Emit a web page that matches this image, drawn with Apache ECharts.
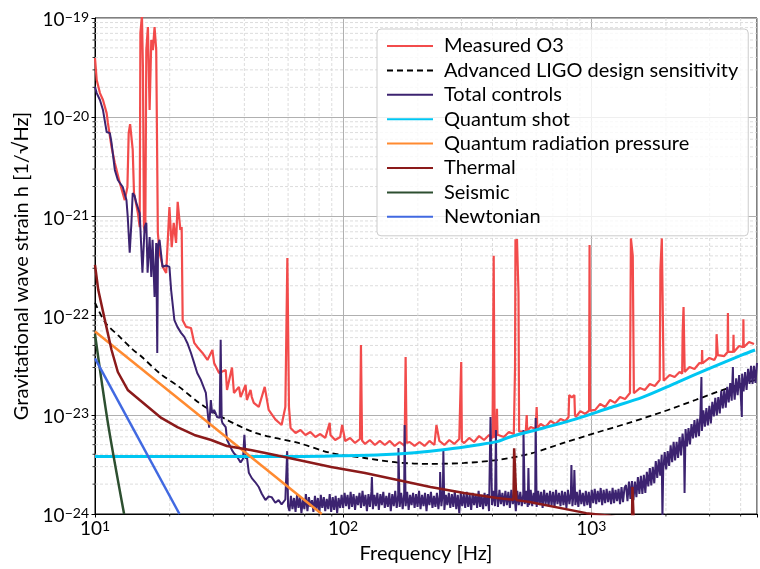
<!DOCTYPE html>
<html><head><meta charset="utf-8">
<script src="https://cdn.jsdelivr.net/npm/echarts@6.0.0/dist/echarts.min.js"></script>
<style>html,body{margin:0;padding:0;background:#fff}#c{width:760px;height:569px}</style>
</head><body><div id="c"></div>
<script>
// ---------- data (frequency in Hz, strain in 1/sqrt(Hz)) ----------
const freqRange = [10, 4656];
const strainRange = [1e-24, 1e-19];
const H_UNIT = 1e-24; // plotting unit for strain

const seriesNames = ['Measured O3','Advanced LIGO design sensitivity','Total controls','Quantum shot','Quantum radiation pressure','Thermal','Seismic','Newtonian'];

const minorFreqTicks = [20,30,40,50,60,70,80,90,200,300,400,500,600,700,800,900,2000,3000,4000];
const minorStrainTicks = [2e-24,3e-24,4e-24,5e-24,6e-24,7e-24,8e-24,9e-24,2e-23,3e-23,4e-23,5e-23,6e-23,7e-23,8e-23,9e-23,2e-22,3e-22,4e-22,5e-22,6e-22,7e-22,8e-22,9e-22,2e-21,3e-21,4e-21,5e-21,6e-21,7e-21,8e-21,9e-21,2e-20,3e-20,4e-20,5e-20,6e-20,7e-20,8e-20,9e-20];

const measuredO3 = [
[10,3.95e-20],[10.16,2.37e-20],[10.47,1.75e-20],[10.77,1.49e-20],[11.14,1.1e-20],[11.27,8.75e-21],[11.66,5.0e-21],[12.02,3.45e-21],[12.59,2.17e-21],[13.18,1.46e-21],[13.51,1.98e-21],[13.67,6.9e-21],[13.85,8.5e-21],[14.06,8.5e-21],[14.19,4.7e-21],[14.36,1.72e-21],[14.89,1.08e-21],[15.14,7.8e-22],[15.24,7.1e-20],[15.46,1.05e-19],[15.6,3.2e-20],[15.75,7.8e-22],[15.95,6.8e-22],[16.1,4.75e-20],[16.34,8.1e-20],[16.6,1.18e-20],[16.86,6.0e-20],[17.11,4.75e-20],[17.38,8.1e-20],[17.65,4.75e-20],[17.92,6.8e-22],[18.2,4.3e-22],[18.76,3.1e-22],[19.36,2.69e-22],[19.95,1.24e-21],[20.38,4.9e-22],[20.76,8.6e-22],[21.22,5.4e-22],[21.54,1.4e-21],[22.08,7.3e-22],[22.35,7.8e-22],[22.56,9.0e-23],[23.27,7.7e-23],[24.37,7.5e-23],[25.12,5.3e-23],[25.89,4.8e-23],[27.12,4.2e-23],[28.39,3.57e-23],[29.73,4.5e-23],[30.2,3.33e-23],[31.62,2.64e-23],[33.64,2.83e-23],[34.04,1.78e-23],[35.65,3.0e-23],[36.31,1.66e-23],[38.02,1.91e-23],[38.62,1.51e-23],[40.44,2.0e-23],[40.93,1.41e-23],[42.35,1.78e-23],[42.85,1.51e-23],[43.65,1.32e-23],[45.71,1.2e-23],[48.31,1.91e-23],[50.12,1.12e-23],[53.3,9.0e-24],[56.5,7.9e-24],[58.5,1.2e-23],[59.6,3.8e-22],[60.5,1.2e-23],
[61.4,7.36e-24],[64.3,6.56e-24],[67.3,7.03e-24],[70.5,6.26e-24],[73.8,6.71e-24],[77.3,5.98e-24],[80.9,6.40e-24],[84.7,5.84e-24],[88.3,8.3e-24],[88.9,6.26e-24],[92.9,5.57e-24],[97.3,5.98e-24],[99.1,7.9e-24],[101.9,5.45e-24],[106.7,5.84e-24],[111.7,5.20e-24],[116.9,5.70e-24],[118,5.05e-23],[119.2,5.5e-24],[122.5,5.08e-24],[128.2,5.57e-24],[134.3,4.96e-24],[140.6,5.45e-24],[147.2,4.96e-24],[154.2,5.45e-24],[161.4,4.85e-24],[169.0,5.32e-24],[177.0,4.85e-24],[178.6,3.83e-23],[180.2,5.2e-24],[185.4,5.32e-24],[194.1,4.85e-24],[203.2,5.32e-24],[212.8,4.85e-24],[222.8,5.45e-24],[233.3,4.96e-24],[237.7,7.89e-24],[244.3,5.45e-24],[255.9,4.96e-24],[267.9,5.57e-24],[280.5,5.08e-24],[293.8,5.70e-24],[299.2,3.4e-23],[301,5.4e-24],[307.6,5.20e-24],[322.1,5.84e-24],[337.3,5.32e-24],[353.2,6.11e-24],[369.8,5.57e-24],[387.3,6.26e-24],[400,5.8e-24],[404.4,4.0e-22],[408,5.9e-24],[414,6.2e-24],[416.9,1.15e-23],[419,6.3e-24],[424.6,6.56e-24],[444.6,5.98e-24],[465.6,6.71e-24],[487.5,6.40e-24],[492,6.6e-24],[493,3.0e-23],[495,5.9e-22],[498,4.5e-22],[502,5.9e-22],[505,3.4e-22],[509,1.7e-22],[512,6.8e-24],[520,7.03e-24],[544.5,6.71e-24],[549.5,9.95e-24],[552,6.9e-24],[570.2,7.54e-24],[597,7.19e-24],[602.6,1.2e-23],[606,7.3e-24],[625.2,8.08e-24],[654.6,7.54e-24],[685.5,8.66e-24],[717.8,8.08e-24],[751.6,9.08e-24],[787,8.66e-24],[810,9.5e-24],[815,1.58e-23],[835,1.5e-23],[855,1.58e-23],[860,1.0e-23],[866,9.5e-24],[903.6,1.09e-23],[946.2,1.02e-23],[980,1.1e-23],[984.5,5.15e-22],[989,1.1e-23],[1037.5,1.12e-23],[1086.4,1.29e-23],[1137.6,1.20e-23],[1191.2,1.41e-23],[1247.4,1.32e-23],[1306.2,1.51e-23],[1367.7,1.44e-23],[1432.2,1.66e-23],[1440,1.6e-23],[1445,6.0e-22],[1465,6.0e-22],[1470,4.0e-22],[1480,4.0e-22],[1485,1.65e-23],[1499.7,1.62e-23],[1570.4,1.86e-23],[1644.4,1.78e-23],[1721.9,2.04e-23],[1803,1.95e-23],[1888,2.24e-23],[1897,2.2e-23],[1900,2.9e-22],[1920,2.9e-22],[1925,6.0e-22],[1950,6.0e-22],[1958,2.2e-23],[1977,2.19e-23],[2070.1,2.52e-23],[2167.7,2.40e-23],[2269.9,2.70e-23],[2325,2.6e-23],[2335,6.7e-23],[2355,1.22e-22],[2370,1.22e-22],[2380,2.7e-23],[2390,2.64e-23],[2488.8,3.03e-23],[2606.2,2.90e-23],[2729,3.33e-23],[2790,3.3e-23],[2798,4.5e-23],[2806,3.3e-23],[2857.6,3.25e-23],[2992.3,3.74e-23],[3133.3,3.57e-23],[3190,3.9e-23],[3200,6.5e-23],[3225,6.5e-23],[3235,4.0e-23],[3281,4.10e-23],[3435.6,3.91e-23],[3545,4.3e-23],[3555,1.06e-22],[3565,4.3e-23],[3597.5,4.50e-23],[3735,4.3e-23],[3744,6.4e-23],[3755,4.3e-23],[3767,4.30e-23],[3944.6,4.94e-23],[4095,4.8e-23],[4104,9.2e-23],[4115,4.8e-23],[4130.5,4.71e-23],[4325.1,5.42e-23],[4528.9,5.17e-23]
];

const designSensitivity = [
[10,1.35e-22],[11,8.5e-23],[12.5,6.2e-23],[14,4.7e-23],[15.5,3.8e-23],[18.3,2.6e-23],[21.9,1.9e-23],[26.3,1.32e-23],[34,8.9e-24],[45,6.5e-24],[66,5.2e-24],[90,4.1e-24],[122,3.67e-24],[166,3.3e-24],[225,3.2e-24],[308,3.27e-24],[417,3.5e-24],[565,4.05e-24],[773,5.2e-24],[1047,6.6e-24],[1420,8.3e-24],[1940,1.07e-23],[2630,1.41e-23],[3565,1.86e-23],[4571,2.24e-23]
];

const totalControls = [
[10,2.02e-20],[10.16,1.75e-20],[10.47,1.49e-20],[10.77,1.18e-20],[11.14,7.1e-21],[11.48,6.9e-21],[11.66,5.5e-21],[12.02,2.94e-21],[12.36,2.33e-21],[12.94,1.98e-21],[13.39,1.46e-21],[13.55,9.9e-22],[13.8,4.3e-22],[14.02,8.6e-22],[14.19,1.72e-21],[14.45,1.6e-21],[14.68,1.36e-21],[14.86,1.24e-21],[15.14,1.08e-21],[15.39,1.05e-21],[15.53,2.7e-22],[15.85,7.8e-22],[16.1,8.6e-22],[16.29,2.7e-22],[16.6,6.2e-22],[16.86,2.45e-22],[17.06,5.8e-22],[17.38,1.54e-22],[17.65,5.4e-22],[17.82,4.2e-23],[17.95,5.1e-22],[18.2,5.8e-22],[18.71,3.1e-22],[19.36,3.2e-22],[19.95,3.1e-22],[20.27,1.81e-22],[20.89,9.0e-23],[21.48,7.7e-23],[22.23,6.7e-23],[22.91,6.1e-23],[23.55,5.3e-23],[24.37,4.2e-23],[25.12,3.3e-23],[25.82,2.64e-23],[26.72,2.24e-23],[27.98,1.66e-23],[28.31,1.2e-23],[28.84,7.4e-24],[29.3,1.41e-23],[29.65,1.04e-23],[30.2,1.12e-23],[31.05,9.5e-24],[31.8,9.3e-24],[32.1,5.7e-23],[32.4,8.8e-24],[32.6,8.3e-24],[33.64,7.5e-24],[34.04,5.6e-24],[35.22,4.7e-24],[35.65,4.4e-24],[36.31,4.1e-24],[37.33,3.8e-24],[38.62,3.3e-24],[39.5,3.6e-24],[40.0,6.3e-24],[40.5,3.6e-24],[40.93,3.8e-24],[41.69,2.6e-24],[42.85,2.3e-24],[44.2,2.1e-24],[45.71,1.87e-24],[47,1.6e-24],[48.63,1.38e-24],[50.1,1.5e-24],[51.52,1.48e-24],[53.3,1.3e-24],[54.95,1.38e-24],[56.5,1.25e-24],[58.5,1.4e-24],[59.5,4.3e-24],[60.0,1.2e-24],
[60.8,1.07e-24],[61.6,1.52e-24],[62.5,1.12e-24],[63.4,1.45e-24],[64.3,1.05e-24],[65.2,1.56e-24],[66.1,1.15e-24],[67.0,1.48e-24],[67.9,1.02e-24],[68.9,1.42e-24],[69.8,1.12e-24],[70.8,1.59e-24],[71.8,1.07e-24],[72.8,1.48e-24],[73.8,1.18e-24],[74.9,1.38e-24],[75.9,1.05e-24],[77.0,1.52e-24],[78.0,1.10e-24],[79.1,1.45e-24],[80.2,1.02e-24],[81.3,1.56e-24],[82.4,1.15e-24],[83.6,1.48e-24],[84.7,1.07e-24],[85.9,1.42e-24],[87.1,1.12e-24],[88.3,1.59e-24],[89.5,1.05e-24],[90.8,1.48e-24],[92.0,1.10e-24],[93.3,1.52e-24],[94.6,1.02e-24],[95.9,1.45e-24],[97.3,1.15e-24],[98.6,1.56e-24],
[100,1.15e-24],[101.4,1.63e-24],[102.8,1.20e-24],[104.2,1.56e-24],[105.7,1.12e-24],[107.2,1.67e-24],[108.6,1.18e-24],[110.2,1.59e-24],[111.7,1.10e-24],[113.3,1.52e-24],[114.8,1.23e-24],[116.4,1.63e-24],[118.0,1.15e-24],[119.7,1.71e-24],[121.3,1.20e-24],[123.0,1.56e-24],[124.7,1.07e-24],[126.5,1.59e-24],[128.2,1.18e-24],[130.0,1.67e-24],[130.6,2.36e-24],[131.8,1.12e-24],[133.7,1.56e-24],[135.5,1.20e-24],[137.4,1.63e-24],[139.3,1.10e-24],[141.3,1.59e-24],[143.2,1.23e-24],[145.2,1.67e-24],[147.2,1.15e-24],[149.3,1.52e-24],[151.4,1.18e-24],[153.5,1.63e-24],[155.6,1.07e-24],[157.8,1.59e-24],[160.0,1.20e-24],[162.2,1.71e-24],[164.4,1.15e-24],[166.7,1.56e-24],[167.1,4.63e-24],[169.0,1.18e-24],[171.4,1.63e-24],[173.8,1.12e-24],[176.2,1.59e-24],[177.0,7.89e-24],[178.6,1.20e-24],[181.1,1.67e-24],[183.7,1.10e-24],[186.2,1.56e-24],[188.8,1.23e-24],[191.4,1.63e-24],[194.1,1.15e-24],[196.8,1.59e-24],[199.5,1.18e-24],[202.3,1.71e-24],[205.1,1.12e-24],[208.0,1.56e-24],[210.9,1.20e-24],[213.8,1.63e-24],[216.8,1.07e-24],[219.8,1.59e-24],[222.8,1.23e-24],[225.9,1.67e-24],[229.1,1.15e-24],[232.3,1.52e-24],[235.5,1.18e-24],[238.8,1.63e-24],[242.1,1.12e-24],[245.5,1.59e-24],[246.0,2.65e-24],[248.9,1.20e-24],[252.4,1.67e-24],[253.5,4.42e-24],[255.9,1.10e-24],[259.4,1.56e-24],[263.0,1.23e-24],[266.7,1.63e-24],[270.4,1.15e-24],[274.2,1.59e-24],[278.0,1.18e-24],[281.9,1.71e-24],[285.8,1.12e-24],[289.8,1.56e-24],[293.8,1.02e-24],[297.9,1.63e-24],[302.0,1.20e-24],[306.2,1.59e-24],[310.5,1.15e-24],[314.8,1.67e-24],[319.2,1.18e-24],[323.6,1.56e-24],[328.1,1.10e-24],[332.7,1.63e-24],[337.3,1.23e-24],[342.0,1.59e-24],[346.7,1.15e-24],[351.6,1.71e-24],[356.5,1.18e-24],[361.4,1.56e-24],[366.4,1.12e-24],[371.5,1.63e-24],[376.7,1.20e-24],[381.9,1.59e-24],[387.3,1.07e-24],[392.6,9.5e-24],[398.1,1.23e-24],
[403.6,1.71e-24],[409.3,1.20e-24],[413,7.03e-24],[415.0,1.67e-24],[420.7,1.18e-24],[426.6,1.75e-24],[432.5,1.26e-24],[438.5,1.63e-24],[444.6,1.20e-24],[450.8,1.71e-24],[457.1,1.23e-24],[463.4,1.67e-24],[469.9,1.15e-24],[476.4,1.75e-24],[483.1,1.26e-24],[489.8,1.63e-24],[496.6,1.07e-24],[503.5,1.71e-24],[510.5,1.23e-24],[517.6,1.67e-24],[524.8,1.20e-24],[532.1,1.59e-24],[533.2,7.03e-24],[539.5,1.26e-24],[547.0,1.71e-24],[554.6,1.18e-24],[558.2,2.91e-24],[562.3,1.23e-24],[570.2,1.75e-24],[578.1,1.20e-24],[586.1,1.63e-24],[594.3,1.26e-24],[597,9.29e-24],[602.6,1.18e-24],[611.0,1.71e-24],[619.4,1.23e-24],[628.1,1.67e-24],[636.8,1.15e-24],[645.7,1.75e-24],[654.6,1.26e-24],[663.7,1.63e-24],[673.0,1.20e-24],[682.3,1.71e-24],[691.8,1.23e-24],[701.5,1.67e-24],[711.2,1.18e-24],[721.1,1.75e-24],[731.1,1.26e-24],[741.3,1.63e-24],[751.6,1.20e-24],[762.1,1.71e-24],[772.7,1.23e-24],[783.4,1.67e-24],[794.3,1.15e-24],[805.4,1.75e-24],[816.6,1.26e-24],[828.0,1.63e-24],[831.8,3.12e-24],[839.5,1.20e-24],[851.2,1.71e-24],[855,2.78e-24],[863.0,1.23e-24],[875.0,1.67e-24],[887.2,1.18e-24],[899.6,1.75e-24],[912.0,1.26e-24],[924.7,1.63e-24],[937.6,1.20e-24],[950.7,1.71e-24],[963.9,1.23e-24],[977.3,1.67e-24],[990.8,1.15e-24],
[1004.6,1.75e-24],[1018.6,1.29e-24],[1032.8,1.79e-24],[1047.1,1.26e-24],[1061.7,1.71e-24],[1076.5,1.32e-24],[1091.4,1.83e-24],[1106.6,1.23e-24],[1122.0,1.75e-24],[1137.6,1.29e-24],[1153.5,1.79e-24],[1169.5,1.32e-24],[1185.8,1.71e-24],[1202.3,1.26e-24],[1219.0,1.83e-24],[1235.9,1.29e-24],[1253.1,1.75e-24],[1270.6,1.35e-24],[1288.3,1.79e-24],[1306.2,1.26e-24],[1324.4,1.87e-24],[1342.8,1.32e-24],[1361.5,1.83e-24],
[1380.4,1.96e-24],[1399.6,1.35e-24],[1419.1,2.12e-24],[1438.8,1.42e-24],[1458.8,2.15e-24],[1479.1,1.38e-24],[1499.7,2.12e-24],[1520.5,1.48e-24],[1541.7,2.36e-24],[1563.1,1.59e-24],[1584.9,2.42e-24],[1606.9,1.59e-24],[1629.3,2.48e-24],[1651.9,1.63e-24],[1674.9,2.66e-24],[1698.2,1.90e-24],[1721.9,2.91e-24],[1745.8,1.94e-24],[1770.1,2.98e-24],[1794.7,2.04e-24],[1819.7,3.42e-24],[1845.0,2.31e-24],[1870.7,3.55e-24],[1896.7,2.44e-24],[1923.1,3.95e-24],[1936,9.0e-25],[1949.8,2.72e-24],[1977.0,4.20e-24],[2004.5,2.81e-24],[2032.4,4.30e-24],[2060.6,3.06e-24],[2089.3,4.91e-24],[2118.4,3.33e-24],[2147.8,5.35e-24],[2177.7,3.46e-24],[2208.0,5.35e-24],[2238.7,3.67e-24],[2269.9,5.95e-24],[2301.4,3.90e-24],[2333.5,6.47e-24],[2365.9,4.54e-24],[2377,1.63e-24],[2398.8,7.19e-24],[2432.2,4.80e-24],[2466.0,7.36e-24],[2500.3,5.02e-24],[2535.1,8.08e-24],[2570.4,5.77e-24],[2606.2,8.86e-24],[2642.4,5.92e-24],[2679.2,9.11e-24],[2716.4,6.08e-24],[2754.2,1.01e-23],[2780,2.40e-23],[2792.5,6.88e-24],[2831.4,1.11e-23],[2870.8,7.61e-24],[2910.7,1.17e-23],[2951.2,7.82e-24],[2992.3,1.23e-23],[3033.9,8.19e-24],[3076.1,1.35e-23],[3118.9,9.63e-24],[3162.3,1.48e-23],[3206.3,9.84e-24],[3250.9,1.51e-23],[3296.1,1.03e-23],[3341.9,1.74e-23],[3388.4,1.16e-23],[3435.6,1.78e-23],[3483.4,1.18e-23],[3531.8,1.91e-23],[3581.0,1.33e-23],[3630.8,2.09e-23],[3681.3,1.39e-23],[3723,3.03e-23],[3732.5,2.14e-23],[3784.4,1.42e-23],[3837.1,2.33e-23],[3890.5,1.58e-23],[3944.6,2.52e-23],[3999.5,1.70e-23],[4045,9.5e-24],[4055.1,2.60e-23],[4111.5,1.72e-23],[4168.7,2.70e-23],[4226.7,1.78e-23],[4285.5,2.90e-23],[4345.1,2.05e-23],[4405.5,3.11e-23],[4466.8,2.05e-23],[4528.9,3.12e-23],[4591.9,2.10e-23],[4655.8,3.33e-23]
];

const quantumShot = [
[10,3.8e-24],[30,3.8e-24],[56,3.8e-24],[90,3.85e-24],[142,3.95e-24],[194,4.15e-24],[263,4.5e-24],[347,4.97e-24],[417,5.36e-24],[470,5.98e-24],[643,7.37e-24],[871,9.1e-24],[1180,1.17e-23],[1614,1.51e-23],[2188,2.09e-23],[2965,2.9e-23],[4055,4.01e-23],[4571,4.5e-23]
];

const radiationPressure = [[10,6.9e-23],[82,1.0e-24]];

const thermal = [
[10,3.24e-22],[10.31,1.81e-22],[10.96,9.0e-23],[11.66,4.5e-23],[12.36,2.7e-23],[13.55,1.78e-23],[15.14,1.41e-23],[18.5,9.3e-24],[21.48,7.5e-24],[25.12,6.26e-24],[29.4,5.57e-24],[34.0,4.85e-24],[42.35,4.42e-24],[48.6,4.12e-24],[66.1,3.5e-24],[89.5,2.98e-24],[122.5,2.59e-24],[166,2.2e-24],[224.9,1.87e-24],[307.6,1.63e-24],[416.9,1.45e-24],[486,1.39e-24],[489,4.6e-24],[496,4.6e-24],[499,1.38e-24],[565,1.32e-24],[955,1.02e-24],[1180,0.96e-24],[1460,0.85e-24],[1465,1.87e-24],[1478,1.87e-24],[1483,0.85e-24]
];

const seismic = [[10,6.5e-23],[11.27,8.3e-24],[13.1,1.0e-24]];
const newtonian = [[10,3.7e-23],[21.9,1.0e-24]];

// ---------- chart ----------
const FONT = 'Lato';
const toPlot = arr => arr.map(p => [p[0], p[1] / H_UNIT]);
const yMin = strainRange[0] / H_UNIT, yMax = strainRange[1] / H_UNIT;

function isDecade(v) { const l = Math.log10(v); return Math.abs(l - Math.round(l)) < 1e-6; }
function sup(exp) { const s = exp < 0 ? '\u2212' + (-exp) : String(exp); return '{b|10}{e|' + s + '}'; }
const tickRich = {
  b: { fontSize: 19, fontFamily: FONT, color: '#000', lineHeight: 20 },
  e: { fontSize: 14, fontFamily: FONT, color: '#000', lineHeight: 8, verticalAlign: 'top' }
};

function line(name, data, color, width, extra) {
  return Object.assign({
    type: 'line', name: name, data: toPlot(data), showSymbol: false, symbol: 'none',
    lineStyle: { color: color, width: width }, itemStyle: { color: color },
    animation: false, silent: true, z: 3, emphasis: { disabled: true }
  }, extra || {});
}

const gridLine = { stroke: '#d4d4d4', lineWidth: 0.8, lineDash: [3, 2] };

const option = {
  animation: false,
  backgroundColor: '#ffffff',
  textStyle: { fontFamily: FONT },
  grid: { left: 95, top: 18, right: -2, bottom: 55, show: true, borderColor: '#000', borderWidth: 1, backgroundColor: 'transparent' },
  xAxis: {
    type: 'log', logBase: 10, min: freqRange[0], max: freqRange[1],
    name: 'Frequency [Hz]', nameLocation: 'middle', nameGap: 28,
    nameTextStyle: { fontFamily: FONT, fontSize: 20, color: '#000' },
    axisLine: { show: true, lineStyle: { color: '#000', width: 1 } },
    axisTick: { show: true, length: 3.5, lineStyle: { color: '#000' } },
    axisLabel: { margin: 5, formatter: v => isDecade(v) ? sup(Math.round(Math.log10(v))) : '', rich: tickRich },
    splitLine: { show: true, lineStyle: { color: '#b0b0b0', width: 1 } }
  },
  yAxis: {
    type: 'log', logBase: 10, min: yMin, max: yMax,
    name: 'Gravitational wave strain h [1/\u221AHz]', nameLocation: 'middle', nameGap: 62,
    nameTextStyle: { fontFamily: FONT, fontSize: 20, color: '#000' },
    axisLine: { show: true, lineStyle: { color: '#000', width: 1 } },
    axisTick: { show: true, length: 3.5, lineStyle: { color: '#000' } },
    axisLabel: { margin: 6, padding: [4, 0, 0, 0], formatter: v => isDecade(v) ? sup(Math.round(Math.log10(v * H_UNIT))) : '', rich: tickRich },
    splitLine: { show: true, lineStyle: { color: '#b0b0b0', width: 1 } }
  },
  legend: {
    data: seriesNames, orient: 'vertical', left: 377, top: 29,
    padding: [7, 10, 9, 9], itemWidth: 46, itemHeight: 20, itemGap: 4.4,
    backgroundColor: 'rgba(255,255,255,0.8)', borderColor: '#cccccc', borderWidth: 1, borderRadius: 4,
    itemStyle: { opacity: 0 },
    textStyle: { fontFamily: FONT, fontSize: 20, color: '#000', lineHeight: 20, padding: [0, 0, 0, 6] },
    selectedMode: false
  },
  series: [
    {
      type: 'custom', silent: true, z: 1, animation: false, clip: false,
      data: minorFreqTicks.map(f => [f, yMin]),
      renderItem: function (params, api) {
        const b = api.coord([api.value(0), yMin]);
        const t = api.coord([api.value(0), yMax]);
        return { type: 'group', children: [
          { type: 'line', shape: { x1: b[0], y1: t[1], x2: b[0], y2: b[1] }, style: gridLine },
          { type: 'line', shape: { x1: b[0], y1: b[1], x2: b[0], y2: b[1] + 2.5 }, style: { stroke: '#000', lineWidth: 0.8 } }
        ] };
      }
    },
    {
      type: 'custom', silent: true, z: 1, animation: false, clip: false,
      data: minorStrainTicks.map(h => [freqRange[0], h / H_UNIT]),
      renderItem: function (params, api) {
        const l = api.coord([freqRange[0], api.value(1)]);
        const r = api.coord([freqRange[1], api.value(1)]);
        return { type: 'group', children: [
          { type: 'line', shape: { x1: l[0], y1: l[1], x2: r[0], y2: r[1] }, style: gridLine },
          { type: 'line', shape: { x1: l[0] - 2.5, y1: l[1], x2: l[0], y2: l[1] }, style: { stroke: '#000', lineWidth: 0.8 } }
        ] };
      }
    },
    line(seriesNames[0], measuredO3, '#f24b4b', 2.2),
    line(seriesNames[1], designSensitivity, '#000000', 1.8, { smooth: 0.3, lineStyle: { color: '#000', width: 1.8, type: [6, 4] } }),
    line(seriesNames[2], totalControls, '#3c2370', 2),
    line(seriesNames[3], quantumShot, '#00c6f2', 3, { smooth: 0.3 }),
    line(seriesNames[4], radiationPressure, '#ff8a30', 2.5),
    line(seriesNames[5], thermal, '#8b1a1a', 2.5),
    line(seriesNames[6], seismic, '#2d4f30', 2.5, { smooth: 0.3 }),
    line(seriesNames[7], newtonian, '#4169e1', 2.5)
  ]
};

const chart = echarts.init(document.getElementById('c'), null, { renderer: 'canvas' });
chart.setOption(option);
</script>
</body></html>
